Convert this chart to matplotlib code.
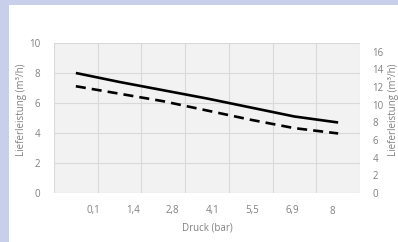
import matplotlib
matplotlib.use("Agg")
from matplotlib import pyplot as plt
from matplotlib.patches import Rectangle
import numpy as np

# data
druck_labels = ["0,1", "1,4", "2,8", "4,1", "5,5", "6,9", "8"]
leistung_links = [8.0, 7.4, 6.85, 6.3, 5.7, 5.1, 4.7]
leistung_rechts = [12.1, 11.25, 10.4, 9.35, 8.3, 7.35, 6.75]

plt.rcParams['font.family'] = ['Open Sans', 'DejaVu Sans']
grau = '#808080'

fig = plt.figure(figsize=(3.98, 2.42), dpi=100)
fig.patch.set_facecolor('#C8CFEA')
# white chart area, lavender border only on left and top
fig.patches.append(Rectangle((9 / 398, 0), 1, 1 - 5 / 242, transform=fig.transFigure,
                             facecolor='white', edgecolor='none', zorder=-10))

ax = fig.add_axes([54 / 398, 49 / 242, 306 / 398, 150 / 242])
ax.set_facecolor('#F2F2F2')
x = np.arange(len(druck_labels))
ax.plot(x, leistung_links, color='black', lw=1.9, solid_capstyle='butt')
ax.set_xlim(-0.5, len(druck_labels) - 0.5)
ax.set_ylim(0, 10)
ax.set_yticks(np.arange(0, 11, 2))

ax2 = ax.twinx()
ax2.plot(x, leistung_rechts, color='black', lw=1.9, ls=(0, (3.8, 2.3)), dash_capstyle='butt')
ax2.set_ylim(0, 17)
ax2.set_yticks(np.arange(0, 17, 2))

# gridlines between categories
ax.set_xticks(np.arange(-0.5, len(druck_labels)), minor=True)
ax.grid(True, which='minor', axis='x', color='#D9D9D9', lw=0.8)
ax.grid(True, which='major', axis='y', color='#D9D9D9', lw=0.8)
ax.set_xticks(np.linspace(0.39, 5.86, len(druck_labels)))
ax.set_xticklabels(druck_labels)
ax.tick_params(axis='x', which='both', length=0, pad=9, labelsize=7, labelcolor=grau)
ax.tick_params(axis='y', length=0, pad=10, labelsize=7, labelcolor=grau)
ax2.tick_params(axis='y', length=0, pad=9, labelsize=7, labelcolor=grau)
ax.set_axisbelow(True)

for a in (ax, ax2):
    for s in a.spines.values():
        s.set_visible(False)

ax.set_xlabel('Druck (bar)', fontsize=7, color=grau, labelpad=4)
ax.set_ylabel('Lieferleistung (m³/h)', fontsize=7, color=grau)
ax2.set_ylabel('Lieferleistung (m³/h)', fontsize=7, color=grau, rotation=90)
ax.yaxis.set_label_coords(-0.088, 0.553)
ax2.yaxis.set_label_coords(1.09, 0.553)

fig.savefig('out.png', dpi=100, facecolor=fig.get_facecolor())
